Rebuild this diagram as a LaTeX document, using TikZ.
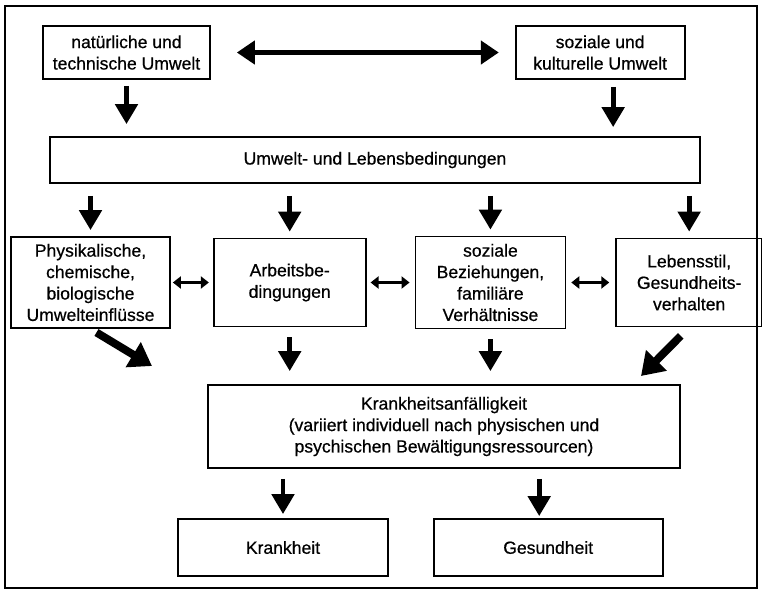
\documentclass[tikz,border=0pt]{standalone}
\usepackage{fontspec}
\setmainfont{Liberation Sans}[FakeBold=0.6]
\usetikzlibrary{arrows.meta,positioning}

\begin{document}
\begin{tikzpicture}[
        x=0.02cm, y=-0.02cm,
        font=\fontsize{10}{12.2}\selectfont,
        box/.style={draw, line width=1pt, align=center, inner sep=2pt},
        arrow/.style={-{Triangle[length=0.4cm, width=0.44cm]}, line width=2.8pt},
        biarrow/.style={{Triangle[length=0.36cm, width=0.46cm]}-{Triangle[length=0.36cm, width=0.46cm]}, line width=2.8pt},
        link/.style={{Triangle[length=0.16cm, width=0.24cm]}-{Triangle[length=0.16cm, width=0.24cm]}, line width=2pt},
        slant/.style={-{Triangle[length=0.44cm, width=0.56cm]}, line width=4.5pt}
      ]
      \useasboundingbox[fill=white] (0,0) rectangle (762,593);
      \draw[line width=1pt] (5,6) rectangle (757,588);

      % Umwelt oben
      \node[box, minimum width=3.34cm, minimum height=1.06cm] (natur) at (126.5,52.5) {natürliche und\\technische Umwelt};
      \node[box, minimum width=3.38cm, minimum height=1.06cm, right=6.08cm of natur] (sozial) {soziale und\\kulturelle Umwelt};
      \node[box, minimum width=13cm, minimum height=0.92cm] (lebbed) at (375,160) {Umwelt- und Lebensbedingungen};

      % mittlere Reihe
      \node[box, minimum width=3.18cm, minimum height=1.82cm] (phys) at (90.5,282.5) {Physikalische,\\chemische,\\biologische\\Umwelteinflüsse};
      \node[box, minimum width=3.04cm, minimum height=1.76cm, right=0.84cm of phys] (arbeit) {Arbeitsbe-\\dingungen};
      \node[box, minimum width=3cm, minimum height=1.84cm, right=0.96cm of arbeit] (bezieh) {soziale\\Beziehungen,\\familiäre\\Verhältnisse};
      \node[box, minimum width=2.92cm, minimum height=1.76cm, right=0.98cm of bezieh] (stil) {Lebensstil,\\Gesundheits-\\verhalten};

      % unten
      \node[box, minimum width=9.44cm, minimum height=1.66cm] (anfall) at (444,426.5) {Krankheitsanfälligkeit\\(variiert individuell nach physischen und\\psychischen Bewältigungsressourcen)};
      \node[box, minimum width=4.2cm, minimum height=1.14cm] (krank) at (283,547.5) {Krankheit};
      \node[box, minimum width=4.58cm, minimum height=1.14cm, right=0.88cm of krank] (gesund) {Gesundheit};

      \coordinate (physin) at (152,366);
      \coordinate (stilin) at (641,376);

      \draw[biarrow, shorten <=0.52cm, shorten >=0.32cm] (natur) -- (sozial);
      \draw[arrow, shorten <=0.12cm, shorten >=0.24cm] (natur.south) -- (natur.south |- lebbed.north);
      \draw[arrow, shorten <=0.14cm, shorten >=0.18cm] ([xshift=0.26cm]sozial.south) -- ([xshift=0.26cm]sozial.south |- lebbed.north);

      \foreach \n in {phys,arbeit,bezieh,stil}
        \draw[arrow, shorten <=0.24cm, shorten >=0.12cm] (lebbed.south -| \n) -- (\n.north);

      \draw[link, shorten <=0.04cm, shorten >=0.08cm] (phys) -- (arbeit);
      \draw[link, shorten <=0.08cm, shorten >=0.1cm] (arbeit) -- (bezieh);
      \draw[link, shorten <=0.1cm, shorten >=0.12cm] (bezieh) -- (stil);

      \draw[slant, shorten <=0.14cm] (phys.south) -- (physin);
      \draw[slant, shorten <=0.24cm] (stil.south) -- (stilin);
      \foreach \n in {arbeit,bezieh}
        \draw[arrow, shorten <=0.2cm, shorten >=0.26cm] (\n.south) -- (\n.south |- anfall.north);

      \draw[arrow, shorten <=0.2cm, shorten >=0.08cm] (anfall.south -| krank) -- (krank.north);
      \draw[arrow, shorten <=0.2cm, shorten >=0.04cm] ([xshift=-0.18cm]gesund.north |- anfall.south) -- ([xshift=-0.18cm]gesund.north);
    \end{tikzpicture}
\end{document}
